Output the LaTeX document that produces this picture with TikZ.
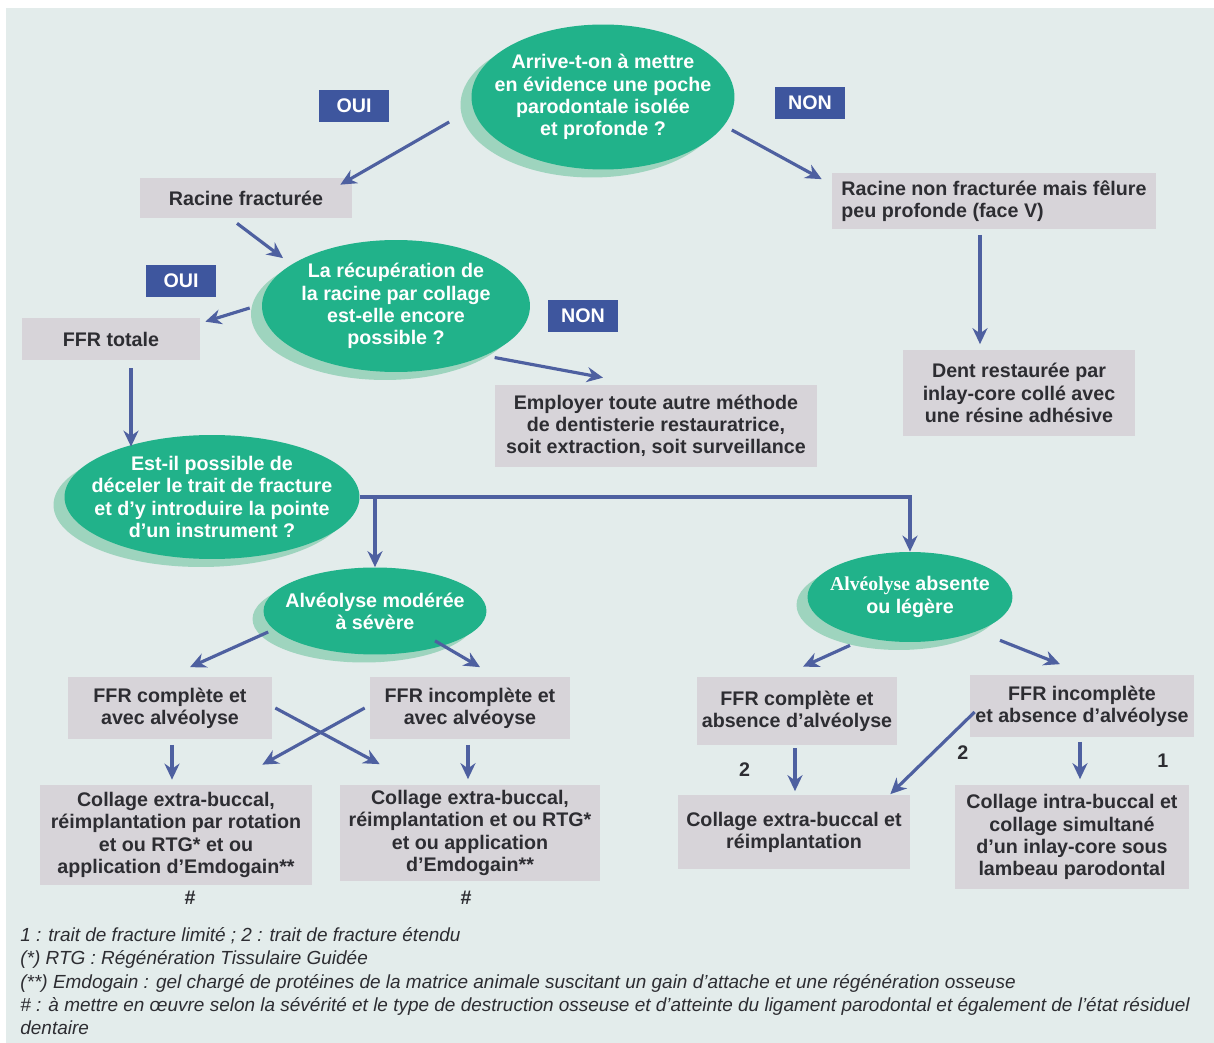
\documentclass[tikz,border=0pt]{standalone}
\usepackage{fontspec}
\setmainfont{Liberation Sans}
\newfontfamily\alvfont{Liberation Serif}
\usepackage{tikz}
\usetikzlibrary{positioning,arrows.meta,shapes.geometric,shadows}

\definecolor{bgpaper}{RGB}{227,236,235}
\definecolor{qgreen}{RGB}{33,178,138}
\definecolor{qshade}{RGB}{158,212,190}
\definecolor{boxgray}{RGB}{215,212,217}
\definecolor{labblue}{RGB}{62,86,158}
\definecolor{arrblue}{RGB}{78,96,160}
\definecolor{txtdark}{RGB}{45,45,50}

\begin{document}
\begin{tikzpicture}[x=0.02cm, y=-0.02cm,
  font=\fontsize{11.2}{12.6}\selectfont\bfseries,
  q/.style={ellipse, fill=qgreen, text=white, align=center, inner xsep=-1cm, inner ysep=-0.5cm,
            drop shadow={shadow xshift=-0.22cm, shadow yshift=-0.16cm, fill=qshade, opacity=1}},
  box/.style={rectangle, fill=boxgray, text=txtdark, align=center, inner sep=0pt},
  yn/.style={rectangle, fill=labblue, text=white, inner sep=0pt, minimum width=1.4cm, minimum height=0.64cm},
  arr/.style={-{Stealth[length=3.2mm,width=3mm]}, draw=arrblue, line width=1.8pt},
  num/.style={text=txtdark},
  note/.style={font=\fontsize{10.8}{13.3}\selectfont\mdseries\itshape, text=txtdark, align=left, inner sep=0pt}
]
\fill[white] (0,0) rectangle (1214,1043);
\fill[bgpaper] (6,8) rectangle (1214,1043);
\useasboundingbox (0,0) rectangle (1214,1043);

% questions
\node[q, minimum width=5.26cm, minimum height=2.9cm] (q1) at (603,97) {Arrive-t-on à mettre\\en évidence une poche\\parodontale isolée\\et profonde ?};
\node[q, minimum width=5.36cm, minimum height=2.64cm] (q2) at (396,306) {La récupération de\\la racine par collage\\est-elle encore\\possible ?};
\node[q, minimum width=5.9cm, minimum height=2.48cm] (q3) at (212,497) {Est-il possible de\\déceler le trait de fracture\\et d’y introduire la pointe\\d’un instrument ?};
\node[q, minimum width=4.46cm, minimum height=1.74cm] (q4) at (375,611) {Alvéolyse modérée\\à sévère};
\node[q, minimum width=4.1cm, minimum height=1.8cm] (q5) at (910,597) {{\alvfont Alvéolyse} absente\\ou légère};

% oui / non
\node[yn] (oui1) at (354,106) {OUI};
\node[yn] (non1) at (810,103) {NON};
\node[yn] (oui2) at (181,281) {OUI};
\node[yn] (non2) at (583,316) {NON};

% boxes
\node[box, minimum width=4.24cm, minimum height=0.8cm] (racf) at (246,198) {Racine fracturée};
\node[box, minimum width=6.48cm, minimum height=1.14cm, align=left] (racnf) at (994,201) {Racine non fracturée mais fêlure\\peu profonde (face V)};
\node[box, minimum width=3.56cm, minimum height=0.84cm] (ffrt) at (111,339) {FFR totale};
\node[box, minimum width=6.46cm, minimum height=1.64cm] (autre) at (656,426) {Employer toute autre méthode\\de dentisterie restauratrice,\\soit extraction, soit surveillance};
\node[box, minimum width=4.64cm, minimum height=1.74cm] (dent) at (1019,393) {Dent restaurée par\\inlay-core collé avec\\une résine adhésive};
\node[box, minimum width=4.08cm, minimum height=1.26cm] (ffrca) at (170,708) {FFR complète et\\avec alvéolyse};
\node[box, minimum width=4.0cm, minimum height=1.26cm] (ffria) at (470,708) {FFR incomplète et\\avec alvéoyse};
\node[box, minimum width=5.44cm, minimum height=2.0cm] (collA) at (176,835) {Collage extra-buccal,\\réimplantation par rotation\\et ou RTG* et ou\\application d’Emdogain**};
\node[box, minimum width=5.2cm, minimum height=1.94cm] (collB) at (470,833) {Collage extra-buccal,\\réimplantation et ou RTG*\\et ou application\\d’Emdogain**};
\node[box, minimum width=4.0cm, minimum height=1.36cm] (ffrcb) at (797,711) {FFR complète et\\absence d’alvéolyse};
\node[box, minimum width=4.48cm, minimum height=1.26cm] (ffrib) at (1082,706) {FFR incomplète\\et absence d’alvéolyse};
\node[box, minimum width=4.64cm, minimum height=1.5cm] (collC) at (794,832) {Collage extra-buccal et\\réimplantation};
\node[box, minimum width=4.7cm, minimum height=2.1cm] (collD) at (1072,837) {Collage intra-buccal et\\collage simultané\\d’un inlay-core sous\\lambeau parodontal};

\node[num] (hA) at (190,898) {\#};
\node[num] (hB) at (466,898) {\#};

% notes
\node[note, anchor=north west] (notes) at (20,927) {1 : trait de fracture limité ; 2 : trait de fracture étendu\\(*) RTG : Régénération Tissulaire Guidée\\(**) Emdogain : gel chargé de protéines de la matrice animale suscitant un gain d’attache et une régénération osseuse\\\# : à mettre en œuvre selon la sévérité et le type de destruction osseuse et d’atteinte du ligament parodontal et également de l’état résiduel\\dentaire};

% arrows
\draw[arr] ([shift={(-22,25)}]q1.west) -- ([shift={(-12,7)}]racf.north east);
\draw[arr] ([shift={(-3,33)}]q1.east) -- ([shift={(-10,7)}]racnf.north west);
\draw[arr] ([shift={(-9,5)}]racf.south) -- ([shift={(-18,-1)}]q2.north west);
\draw[arr] ([shift={(-12,2)}]q2.west) -- ([shift={(5,4)}]ffrt.north east);
\draw[arr] ([shift={(1,6)}]q2.-25) -- ([shift={(-53,-7)}]autre.north);
\draw[arr] ([shift={(-14,5)}]racnf.south) -- ([shift={(-39,-5)}]dent.north);
\draw[arr] ([shift={(20,8)}]ffrt.south) -- ([shift={(20,12)}]ffrt.south |- q3.north);
\draw[arr] (q3.east) -| (q5.north);
\draw[arr] (q4.north |- q3.east) -- (q4.north);

\draw[arr] ([shift={(5,21)}]q4.west) -- ([shift={(20,-9)}]ffrca.north);
\draw[arr] ([shift={(60,-14)}]q4.south) -- ([shift={(10,-9)}]ffria.north);
\draw[arr] ([shift={(3,0)}]ffrca.east) -- ([shift={(40,-20)}]collB.north west);
\draw[arr] ([shift={(-5,0)}]ffria.west) -- ([shift={(-50,-20)}]collA.north east);
\draw[arr] ([shift={(2,5)}]ffrca.south) -- ([shift={(2,-5)}]ffrca.south |- collA.north);
\draw[arr] ([shift={(-2,5)}]ffria.south) -- ([shift={(-2,-5)}]ffria.south |- collB.north);

\draw[arr] ([shift={(-60,3)}]q5.south) -- ([shift={(6,-10)}]ffrcb.north);
\draw[arr] ([shift={(90,-2)}]q5.south) -- ([shift={(-22,-10)}]ffrib.north);
\draw[arr] ([shift={(-2,3)}]ffrcb.south) -- node[num, left=0.75cm]{2} ([shift={(-2,-3)}]ffrcb.south |- collC.north);
\draw[arr] ([shift={(5,6)}]ffrib.west) -- node[num, right=0.35cm]{2} ([shift={(-20,0)}]collC.north east);
\draw[arr] ([shift={(-2,4)}]ffrib.south) -- node[num, right=1.4cm]{1} ([shift={(-2,-5)}]ffrib.south |- collD.north);
\end{tikzpicture}
\end{document}
